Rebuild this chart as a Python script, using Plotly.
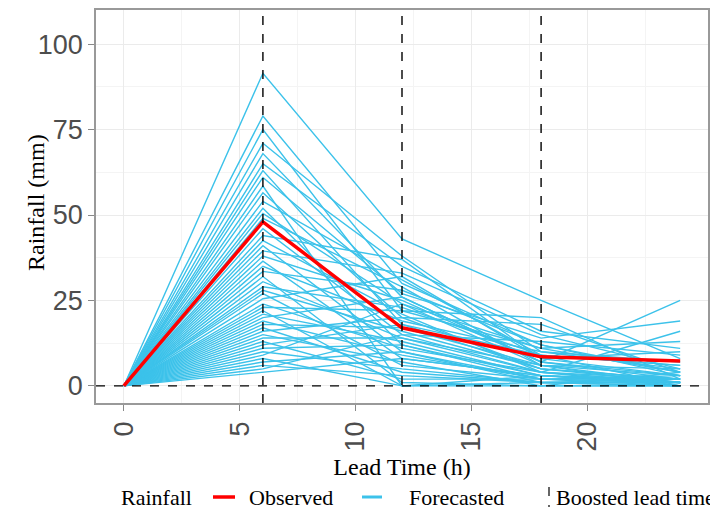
import plotly.graph_objects as go

lead_times = [0, 6, 12, 18, 24]
observed = [0, 48, 17, 8.5, 7.3]

fc_6 = [91.5, 79, 75, 71, 68, 65, 63, 61, 58.5, 56.5, 54, 52, 50.5, 49, 46, 44, 42.5, 41, 39.5, 38,
        36.5, 35, 33.5, 32, 30.5, 29, 28, 27, 25.5, 24, 23, 22, 21, 20, 19, 18, 17, 16, 15, 14,
        13, 12, 11, 10, 9, 8, 7, 6, 5, 4]
fc_12 = [43, 30, 22, 38, 26, 35, 18, 27, 0, 20, 31, 12, 24, 29, 15, 37, 21, 10, 33, 25,
         8, 19, 28, 1, 14, 23, 16, 6, 32, 11, 22, 0, 13, 26, 9, 17, 4, 20, 7, 14,
         2, 18, 12, 5, 24, 0, 10, 3, 15, 8]
fc_18 = [25, 12, 20, 10, 7, 16, 5, 14, 3, 18, 9, 2, 11, 6, 13, 8, 4, 1, 15, 7,
         3, 10, 12, 0, 6, 9, 5, 2, 8, 4, 11, 1, 3, 7, 2, 6, 1, 5, 0, 4,
         2, 9, 3, 1, 6, 0, 2, 1, 4, 3]
fc_24 = [8, 3, 2, 5, 25, 11, 1, 19, 0, 4, 6, 2, 13, 1, 9, 3, 16, 0, 5, 2,
         1, 7, 4, 0, 3, 6, 2, 1, 10, 0, 4, 2, 1, 3, 0, 5, 1, 2, 0, 1,
         3, 0, 2, 1, 0, 4, 1, 0, 2, 1]
fc_0 = [0] * len(fc_6)

boosted_lead_times = [6, 12, 18]

x_ticks = [0, 5, 10, 15, 20]
y_ticks = [0, 25, 50, 75, 100]

x_title = "Lead Time (h)"
y_title = "Rainfall (mm)"
legend_title = "Rainfall"
legend_labels = ["Observed", "Forecasted", "Boosted lead time"]

BLUE = "#3CC2EA"
RED = "#FF0000"
SERIF = "Liberation Serif"
SANS = "Liberation Sans"

# page has an 8px body margin; figure sized to fit the viewport
OFF = 8
W, H = 718 - OFF, 510 - OFF
# plot area in page pixels: x 96..708, y 10..403
L, R, T, B = 96 - OFF, W - (708 - OFF), 10 - OFF, H - (403 - OFF)
PW, PH = W - L - R, H - T - B


def px(xpage):
    return (xpage - OFF - L) / PW


def py(ypage):
    return (H - B - (ypage - OFF)) / PH


fig = go.Figure()

for i in range(len(fc_6)):
    fig.add_trace(go.Scatter(
        x=lead_times,
        y=[fc_0[i], fc_6[i], fc_12[i], fc_18[i], fc_24[i]],
        mode="lines",
        line=dict(color=BLUE, width=1.4),
        name="Forecasted",
        legendgroup="fc",
        showlegend=False,
        hoverinfo="skip",
    ))

fig.add_trace(go.Scatter(
    x=lead_times, y=observed, mode="lines",
    line=dict(color=RED, width=3.5),
    name="Observed", showlegend=False,
))

for bt in boosted_lead_times:
    fig.add_shape(type="line", xref="x", yref="paper", x0=bt, x1=bt, y0=0, y1=1,
                  line=dict(color="black", width=1.4, dash="dash"), layer="above")
fig.add_shape(type="line", xref="paper", yref="y", x0=0, x1=1, y0=0, y1=0,
              line=dict(color="black", width=1.4, dash="dash"), layer="above")

# y-axis title
fig.add_annotation(text=y_title, xref="paper", yref="paper", x=px(36), y=py(203),
                   xanchor="center", yanchor="middle", textangle=-90, showarrow=False,
                   font=dict(family=SERIF, size=24, color="black"))

# manual legend (page pixel positions)
ly = py(497)
LEG_FONT = dict(family=SERIF, size=22, color="black")
fig.add_annotation(text=legend_title, xref="paper", yref="paper", x=px(119), y=ly,
                   xanchor="left", yanchor="middle", showarrow=False, font=LEG_FONT)
fig.add_shape(type="line", xref="paper", yref="paper", x0=px(213), x1=px(235), y0=ly, y1=ly,
              line=dict(color=RED, width=3.5))
fig.add_annotation(text=legend_labels[0], xref="paper", yref="paper", x=px(247), y=ly,
                   xanchor="left", yanchor="middle", showarrow=False, font=LEG_FONT)
fig.add_shape(type="line", xref="paper", yref="paper", x0=px(362), x1=px(382), y0=ly, y1=ly,
              line=dict(color=BLUE, width=3))
fig.add_annotation(text=legend_labels[1], xref="paper", yref="paper", x=px(407), y=ly,
                   xanchor="left", yanchor="middle", showarrow=False, font=LEG_FONT)
fig.add_shape(type="line", xref="paper", yref="paper", x0=px(549), x1=px(549), y0=py(487), y1=py(507),
              line=dict(color="black", width=1.2, dash="dash"))
fig.add_annotation(text=legend_labels[2], xref="paper", yref="paper", x=px(554), y=ly,
                   xanchor="left", yanchor="middle", showarrow=False, font=LEG_FONT)

fig.update_layout(
    width=W, height=H,
    margin=dict(l=L, r=R, t=T, b=B, autoexpand=False),
    plot_bgcolor="white", paper_bgcolor="white",
    showlegend=False,
)

fig.update_xaxes(
    range=[-1.2, 25.2],
    tickvals=x_ticks, ticktext=[str(v) for v in x_ticks],
    tickangle=-90,
    tickfont=dict(family=SANS, size=27, color="#4D4D4D"),
    ticks="outside", ticklen=6, tickcolor="#888888",
    showgrid=True, gridcolor="#EBEBEB", gridwidth=1.2,
    minor=dict(tickvals=[2.5, 7.5, 12.5, 17.5, 22.5], showgrid=True, gridcolor="#F4F4F4", gridwidth=1),
    showline=True, linecolor="#999999", linewidth=1.5, mirror=True,
    zeroline=False, automargin=False,
    title=dict(text=x_title, font=dict(family=SERIF, size=24, color="black"), standoff=8),
)
fig.update_yaxes(
    range=[-5, 110],
    tickvals=y_ticks, ticktext=[str(v) for v in y_ticks],
    tickfont=dict(family=SANS, size=27, color="#4D4D4D"),
    ticks="outside", ticklen=6, tickcolor="#888888",
    showgrid=True, gridcolor="#EBEBEB", gridwidth=1.2,
    minor=dict(tickvals=[12.5, 37.5, 62.5, 87.5], showgrid=True, gridcolor="#F4F4F4", gridwidth=1),
    showline=True, linecolor="#999999", linewidth=1.5, mirror=True,
    zeroline=False, automargin=False,
)

fig.write_html("out.html")
